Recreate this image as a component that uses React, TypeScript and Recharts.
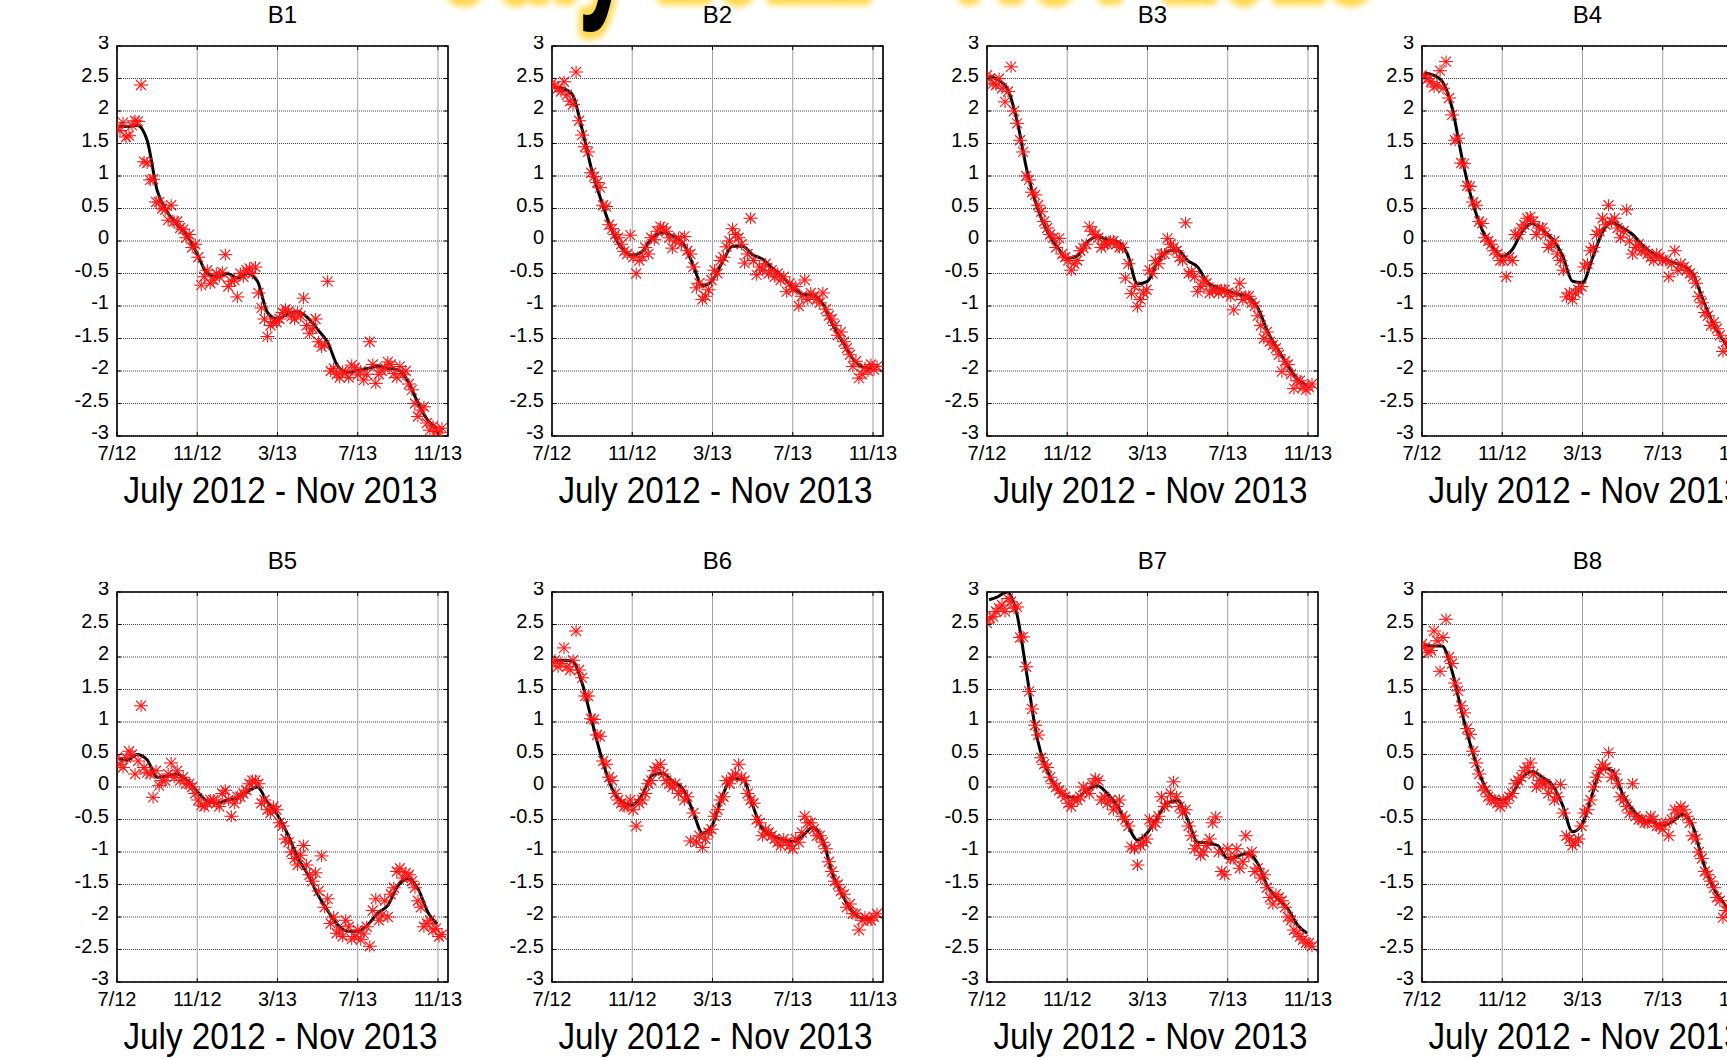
import { ComposedChart, Scatter, Line, XAxis, YAxis, CartesianGrid, ReferenceArea } from "recharts";

// sample dates, in months after 1 July 2012
const sampleMonths = [
  0, 0.3, 0.6, 0.9, 1.2, 1.5, 1.8, 2.1, 2.4, 2.7, 3.0, 3.3, 3.6, 3.9, 4.2, 4.5, 4.8, 5.1, 5.4, 5.7,
  6.0, 6.3, 6.6, 6.9, 7.2, 7.5, 7.8, 8.1, 8.4, 8.7, 9.0, 9.3, 9.6, 9.9, 10.2, 10.5, 10.8, 11.1, 11.4,
  11.7, 12.0, 12.3, 12.6, 12.9, 13.2, 13.5, 13.8, 14.1, 14.4, 14.7, 15.0, 15.3, 15.6, 15.9, 16.2,
];
// second batch of sample dates, in between the first ones
const extraMonths = [
  0.15, 0.45, 0.75, 1.05, 1.35, 1.65, 1.95, 2.25, 2.55, 2.85, 3.15, 3.45, 3.75, 4.05, 4.35, 4.65, 4.95,
  5.25, 5.55, 5.85, 6.15, 6.45, 6.75, 7.05, 7.35, 7.65, 7.95, 8.25, 8.55, 8.85, 9.15, 9.45, 9.75, 10.05,
  10.35, 10.65, 10.95, 11.25, 11.55, 11.85, 12.15, 12.45, 12.75, 13.05, 13.35, 13.65, 13.95, 14.25,
  14.55, 14.85, 15.15, 15.45, 15.75, 16.05,
];
// dates of the smoothed (black) curve
const fitMonths = [
  0.1, 0.5, 1, 1.5, 2, 2.5, 3, 3.5, 4, 4.5, 5, 5.5, 6, 6.5, 7, 7.5, 8, 8.5, 9, 9.5, 10, 10.5, 11,
  11.5, 12, 12.5, 13, 13.5, 14, 14.5, 15, 15.5, 15.95,
];

const xTicks = [0, 4, 8, 12, 16];
const xTickLabels = ["7/12", "11/12", "3/13", "7/13", "11/13"];
const yTicks = [-3, -2.5, -2, -1.5, -1, -0.5, 0, 0.5, 1, 1.5, 2, 2.5, 3];
const panelNames = ["B1", "B2", "B3", "B4", "B5", "B6", "B7", "B8"];
const axisTitle = "July 2012 - Nov 2013";

const b1Samples = [1.75, 1.82, 1.62, 1.85, 2.4, 1.2, 0.95, 0.6, 0.48, 0.55, 0.3, 0.18, 0.1, -0.05, -0.68, -0.45, -0.6, -0.55, -0.21, -0.62, -0.86, -0.55, -0.42, -0.4, -1.03, -1.47, -1.24, -1.2, -1.05, -1.16, -1.1, -0.88, -1.42, -1.2, -1.63, -0.62, -1.96, -2.1, -2.04, -1.91, -2.06, -2.14, -1.55, -2.19, -2.0, -1.86, -2.04, -1.93, -2.0, -2.29, -2.7, -2.55, -2.91, -2.93, -2.88];
const b1Extra = [1.7, 1.6, 1.78, 1.84, 1.22, 0.94, 0.6, 0.5, 0.32, 0.3, 0.2, 0.05, -0.1, -0.25, -0.55, -0.65, -0.5, -0.48, -0.7, -0.6, -0.5, -0.45, -0.5, -0.8, -1.2, -1.3, -1.25, -1.1, -1.08, -1.2, -1.15, -1.3, -1.35, -1.55, -1.6, -2.0, -2.05, -2.0, -2.1, -1.95, -2.0, -2.05, -1.9, -2.05, -1.95, -1.9, -2.1, -2.05, -2.2, -2.5, -2.6, -2.8, -2.85, -2.95];
const b1Fit = [1.76, 1.76, 1.78, 1.55, 0.78, 0.45, 0.25, 0.08, -0.2, -0.5, -0.55, -0.5, -0.57, -0.5, -0.62, -1.1, -1.2, -1.12, -1.09, -1.18, -1.36, -1.56, -1.92, -2.02, -1.99, -1.96, -1.93, -1.96, -1.98, -2.15, -2.49, -2.76, -2.88];

const b2Samples = [2.43, 2.35, 2.45, 2.15, 2.6, 1.63, 1.37, 0.99, 0.82, 0.53, 0.19, 0.05, -0.16, 0.09, -0.5, -0.24, -0.2, 0.02, 0.22, 0.15, -0.11, 0.05, 0.07, -0.2, -0.72, -0.9, -0.75, -0.45, -0.3, -0.09, 0.19, 0.05, -0.34, 0.35, -0.52, -0.45, -0.5, -0.55, -0.6, -0.78, -0.75, -1.0, -0.6, -0.8, -0.9, -0.8, -1.15, -1.3, -1.4, -1.65, -1.93, -2.11, -1.95, -1.9, -1.93];
const b2Extra = [2.38, 2.3, 2.25, 2.1, 1.85, 1.45, 1.05, 0.9, 0.55, 0.25, 0.1, -0.05, -0.2, -0.25, -0.3, -0.1, 0.05, 0.15, 0.2, 0.05, 0.0, -0.05, -0.15, -0.4, -0.65, -0.85, -0.6, -0.5, -0.25, 0.0, 0.1, -0.05, -0.2, -0.3, -0.4, -0.35, -0.45, -0.5, -0.55, -0.65, -0.7, -0.85, -0.9, -0.85, -0.95, -1.05, -1.2, -1.45, -1.55, -1.75, -1.85, -2.05, -2.0, -1.98];
const b2Fit = [2.37, 2.35, 2.26, 1.72, 1.07, 0.58, 0.15, -0.12, -0.22, -0.16, 0.05, 0.13, 0.08, -0.02, -0.34, -0.69, -0.6, -0.32, -0.08, -0.08, -0.21, -0.28, -0.42, -0.55, -0.71, -0.82, -0.83, -0.97, -1.29, -1.56, -1.81, -1.94, -1.96];

const b3Samples = [2.55, 2.42, 2.5, 2.14, 2.68, 1.81, 1.37, 0.94, 0.71, 0.45, 0.2, 0.05, 0.04, -0.25, -0.45, -0.3, -0.11, 0.22, 0.1, -0.1, -0.05, 0.0, -0.1, -0.57, -0.81, -1.01, -0.8, -0.45, -0.3, -0.2, 0.04, -0.1, -0.25, 0.28, -0.47, -0.78, -0.6, -0.8, -0.75, -0.75, -0.8, -1.06, -0.65, -0.85, -0.95, -1.15, -1.5, -1.55, -1.65, -2.01, -1.9, -2.27, -2.15, -2.29, -2.2];
const b3Extra = [2.5, 2.4, 2.35, 2.3, 2.0, 1.55, 1.0, 0.75, 0.55, 0.3, 0.1, -0.1, -0.2, -0.3, -0.35, -0.15, -0.05, 0.15, 0.05, -0.05, 0.0, -0.05, -0.1, -0.35, -0.7, -0.9, -0.75, -0.5, -0.35, -0.2, -0.05, -0.15, -0.3, -0.5, -0.55, -0.7, -0.65, -0.75, -0.8, -0.75, -0.85, -0.8, -0.9, -0.85, -1.0, -1.3, -1.4, -1.6, -1.75, -1.85, -2.05, -2.15, -2.25, -2.25];
const b3Fit = [2.53, 2.49, 2.35, 1.85, 1.07, 0.52, 0.15, -0.09, -0.27, -0.23, -0.02, 0.07, 0.02, -0.01, -0.2, -0.66, -0.62, -0.33, -0.16, -0.14, -0.3, -0.4, -0.64, -0.72, -0.77, -0.82, -0.85, -1.03, -1.4, -1.67, -1.92, -2.13, -2.22];

const b4Samples = [2.55, 2.5, 2.37, 2.62, 2.76, 1.94, 1.58, 1.19, 0.84, 0.55, 0.27, 0.0, -0.15, -0.3, -0.55, -0.3, 0.1, 0.25, 0.37, 0.1, 0.2, -0.1, 0.0, -0.3, -0.86, -0.9, -0.75, -0.4, -0.15, 0.1, 0.35, 0.55, 0.35, 0.05, 0.48, -0.2, -0.05, -0.15, -0.25, -0.2, -0.3, -0.55, -0.15, -0.35, -0.45, -0.55, -0.85, -1.1, -1.3, -1.35, -1.7, -1.65, -1.85, -1.95, -2.0];
const b4Extra = [2.52, 2.45, 2.4, 2.35, 2.2, 1.55, 1.2, 0.85, 0.6, 0.3, 0.05, -0.05, -0.2, -0.3, -0.25, 0.1, 0.2, 0.35, 0.3, 0.2, 0.1, -0.05, -0.2, -0.45, -0.8, -0.8, -0.7, -0.35, -0.1, 0.15, 0.25, 0.3, 0.2, 0.15, 0.0, -0.1, -0.15, -0.2, -0.3, -0.25, -0.3, -0.35, -0.45, -0.4, -0.5, -0.65, -0.95, -1.15, -1.25, -1.45, -1.55, -1.75, -1.9, -1.95];
const b4Fit = [2.58, 2.56, 2.46, 2.05, 1.27, 0.62, 0.17, -0.08, -0.24, -0.13, 0.15, 0.27, 0.17, 0.03, -0.22, -0.62, -0.64, -0.26, 0.14, 0.28, 0.2, 0.1, -0.07, -0.19, -0.26, -0.33, -0.38, -0.5, -0.9, -1.26, -1.52, -1.76, -1.95];

const b5Samples = [0.45, 0.3, 0.55, 0.2, 1.25, 0.22, -0.16, 0.02, 0.1, 0.37, 0.25, 0.15, 0.05, -0.1, -0.28, -0.25, -0.2, -0.3, -0.05, -0.45, -0.15, -0.1, 0.05, 0.1, -0.25, -0.35, -0.3, -0.55, -0.8, -1.0, -1.2, -0.9, -1.35, -1.32, -1.06, -1.72, -2.0, -2.2, -2.05, -2.34, -2.2, -2.26, -2.45, -1.72, -1.97, -2.0, -1.55, -1.25, -1.32, -1.45, -1.75, -2.15, -2.05, -2.18, -2.27];
const b5Extra = [0.35, 0.45, 0.5, 0.4, 0.3, 0.2, 0.25, 0.1, 0.2, 0.15, 0.1, 0.05, 0.0, -0.2, -0.3, -0.2, -0.25, -0.1, -0.2, -0.25, -0.15, -0.05, 0.1, 0.05, -0.2, -0.4, -0.35, -0.6, -0.85, -1.1, -1.05, -1.2, -1.45, -1.6, -1.85, -2.1, -2.25, -2.3, -2.15, -2.3, -2.35, -2.15, -1.9, -2.05, -1.75, -1.65, -1.3, -1.4, -1.35, -1.55, -1.85, -2.1, -2.2, -2.3];
const b5Fit = [0.44, 0.41, 0.5, 0.42, 0.15, 0.17, 0.2, 0.1, -0.07, -0.22, -0.25, -0.2, -0.17, -0.07, 0.0, -0.24, -0.43, -0.72, -1.08, -1.34, -1.65, -1.9, -2.12, -2.22, -2.22, -2.12, -1.94, -1.82, -1.52, -1.41, -1.56, -1.93, -2.11];

const b6Samples = [1.9, 1.85, 2.14, 1.8, 2.4, 1.68, 1.4, 1.04, 0.78, 0.35, 0.1, -0.2, -0.3, -0.2, -0.6, -0.2, 0.05, 0.25, 0.35, 0.1, 0.0, -0.1, -0.2, -0.83, -0.85, -0.93, -0.7, -0.45, -0.2, 0.1, 0.15, 0.35, 0.1, -0.2, -0.5, -0.75, -0.7, -0.8, -0.9, -0.85, -0.95, -0.85, -0.45, -0.55, -0.75, -0.85, -1.15, -1.45, -1.6, -1.85, -1.95, -2.2, -2.0, -2.05, -1.95];
const b6Extra = [1.95, 1.9, 1.85, 1.95, 1.8, 1.4, 1.05, 0.8, 0.4, 0.15, -0.1, -0.25, -0.3, -0.35, -0.25, -0.1, 0.1, 0.3, 0.2, 0.05, 0.05, -0.05, -0.15, -0.4, -0.75, -0.8, -0.65, -0.35, -0.15, 0.05, 0.2, 0.15, -0.1, -0.25, -0.55, -0.65, -0.75, -0.85, -0.8, -0.9, -0.8, -0.7, -0.55, -0.65, -0.75, -0.95, -1.3, -1.5, -1.65, -1.8, -1.95, -2.05, -2.05, -2.0];
const b6Fit = [1.94, 1.95, 1.94, 1.6, 1.0, 0.42, -0.03, -0.23, -0.28, -0.12, 0.18, 0.21, 0.09, -0.02, -0.35, -0.71, -0.58, -0.13, 0.13, 0.13, -0.28, -0.65, -0.75, -0.81, -0.84, -0.75, -0.62, -0.82, -1.35, -1.68, -1.92, -2.02, -2.02];

const b7Samples = [2.52, 2.62, 2.75, 2.7, 2.85, 2.77, 2.31, 1.47, 0.95, 0.45, 0.3, 0.05, -0.05, -0.15, -0.3, -0.2, 0.0, -0.1, 0.13, -0.2, -0.25, -0.35, -0.2, -0.5, -0.92, -1.2, -0.85, -0.5, -0.55, -0.15, -0.25, 0.08, -0.3, -0.35, -0.75, -0.9, -1.0, -0.8, -0.46, -1.3, -0.95, -1.1, -1.25, -0.75, -1.0, -1.25, -1.35, -1.7, -1.65, -1.75, -2.0, -2.2, -2.3, -2.4, -2.45];
const b7Extra = [2.6, 2.7, 2.8, 2.9, 2.75, 2.3, 1.85, 1.2, 0.8, 0.35, 0.15, 0.0, -0.1, -0.25, -0.2, -0.15, -0.05, 0.05, 0.1, -0.15, -0.2, -0.3, -0.45, -0.6, -0.95, -0.9, -0.8, -0.6, -0.45, -0.3, -0.1, -0.15, -0.4, -0.6, -0.95, -1.05, -0.9, -0.55, -1.0, -1.35, -1.1, -0.95, -1.15, -1.05, -1.3, -1.4, -1.55, -1.8, -1.7, -1.85, -2.05, -2.25, -2.35, -2.4];
const b7Fit = [2.88, 2.92, 3.0, 2.65, 1.7, 0.75, 0.25, -0.02, -0.15, -0.16, -0.04, 0.02, -0.1, -0.29, -0.58, -0.82, -0.7, -0.46, -0.24, -0.21, -0.5, -0.85, -0.86, -0.9, -1.1, -1.06, -1.02, -1.18, -1.54, -1.72, -1.88, -2.13, -2.25];

const b8Samples = [2.2, 2.07, 2.4, 1.78, 2.58, 1.9, 1.48, 1.14, 0.81, 0.37, 0.0, -0.15, -0.2, -0.3, -0.25, -0.1, 0.1, 0.25, 0.37, 0.0, 0.05, -0.1, -0.2, 0.04, -0.75, -0.9, -0.8, -0.4, -0.2, 0.15, 0.35, 0.53, 0.2, -0.15, -0.3, 0.05, -0.5, -0.55, -0.45, -0.6, -0.65, -0.75, -0.35, -0.3, -0.45, -0.75, -1.0, -1.3, -1.45, -1.7, -2.01, -1.85, -2.0, -2.1, -2.05];
const b8Extra = [2.15, 2.1, 2.25, 2.3, 2.0, 1.6, 1.25, 0.9, 0.55, 0.2, -0.05, -0.2, -0.25, -0.2, -0.15, 0.05, 0.15, 0.3, 0.2, 0.1, 0.05, 0.0, -0.15, -0.4, -0.8, -0.85, -0.6, -0.35, 0.0, 0.25, 0.3, 0.15, 0.05, -0.2, -0.4, -0.45, -0.5, -0.55, -0.5, -0.6, -0.55, -0.5, -0.4, -0.35, -0.55, -0.8, -1.1, -1.35, -1.55, -1.75, -1.9, -2.0, -2.05, -2.1];
const b8Fit = [2.19, 2.17, 2.17, 1.78, 1.13, 0.56, 0.1, -0.15, -0.2, -0.1, 0.15, 0.24, 0.15, 0.03, -0.27, -0.69, -0.56, -0.1, 0.29, 0.25, -0.11, -0.35, -0.49, -0.54, -0.59, -0.53, -0.42, -0.6, -1.14, -1.54, -1.77, -1.98, -2.1];

const allSamples = [b1Samples, b2Samples, b3Samples, b4Samples, b5Samples, b6Samples, b7Samples, b8Samples];
const allExtras = [b1Extra, b2Extra, b3Extra, b4Extra, b5Extra, b6Extra, b7Extra, b8Extra];
const allFits = [b1Fit, b2Fit, b3Fit, b4Fit, b5Fit, b6Fit, b7Fit, b8Fit];

const FONT = "'Liberation Sans', Arial, Helvetica, sans-serif";
const PLOT_W = 331;
const PLOT_H = 390;
const M_LEFT = 60;
const M_TOP = 10;
const colLeft = [117, 552, 987, 1422];
const rowTop = [46, 592];

// MATLAB-style '*' marker
function Asterisk(props: any) {
  const { cx, cy } = props;
  if (cx == null || cy == null) return null;
  const r = 7;
  const d = 5;
  return (
    <g stroke="#ff1414" strokeWidth={1.1}>
      <line x1={cx - r} y1={cy} x2={cx + r} y2={cy} />
      <line x1={cx} y1={cy - r + 1} x2={cx} y2={cy + r - 1} />
      <line x1={cx - d} y1={cy - d} x2={cx + d} y2={cy + d} />
      <line x1={cx - d} y1={cy + d} x2={cx + d} y2={cy - d} />
    </g>
  );
}

// y tick: label plus small inward ticks on both sides of the box
function YTick(props: any) {
  const { x, y, payload } = props;
  return (
    <g>
      <text x={x} y={y - 4} dy="0.355em" textAnchor="end" fontSize={20} fontFamily={FONT} fill="#000">
        {payload.value}
      </text>
      <line x1={M_LEFT} x2={M_LEFT + 4} y1={y} y2={y} stroke="#000" />
      <line x1={M_LEFT + PLOT_W - 4} x2={M_LEFT + PLOT_W} y1={y} y2={y} stroke="#000" />
    </g>
  );
}

// x tick: label plus small inward ticks at top and bottom of the box
function XTick(props: any) {
  const { x, y, payload } = props;
  return (
    <g>
      <text x={x} y={y} dy="0.71em" textAnchor="middle" fontSize={20} fontFamily={FONT} fill="#000">
        {xTickLabels[xTicks.indexOf(payload.value)] ?? ""}
      </text>
      <line x1={x} x2={x} y1={M_TOP + PLOT_H} y2={M_TOP + PLOT_H - 4} stroke="#000" />
      <line x1={x} x2={x} y1={M_TOP} y2={M_TOP + 4} stroke="#000" />
    </g>
  );
}

function Panel({ index }: { index: number }) {
  const left = colLeft[index % 4];
  const top = rowTop[Math.floor(index / 4)];
  const scatterData = [
    ...sampleMonths.map((m, i) => ({ x: m, y: allSamples[index][i] })),
    ...extraMonths.map((m, i) => ({ x: m, y: allExtras[index][i] })),
  ];
  const lineData = fitMonths.map((m, i) => ({ x: m, y: allFits[index][i] }));

  return (
    <div style={{ position: "absolute", left: left - M_LEFT, top: top - M_TOP }}>
      <ComposedChart
        width={M_LEFT + PLOT_W + 20}
        height={M_TOP + PLOT_H + 40}
        margin={{ top: M_TOP, right: 20, bottom: 0, left: 0 }}
      >
        <CartesianGrid vertical={false} stroke="#404040" strokeDasharray="1 1" />
        <CartesianGrid horizontal={false} stroke="#a0a0a0" />
        <XAxis
          type="number"
          dataKey="x"
          domain={[0, 16.5]}
          ticks={xTicks}
          interval={0}
          allowDataOverflow
          height={40}
          axisLine={false}
          tickLine={false}
          tickMargin={4}
          tick={<XTick />}
        />
        <YAxis
          type="number"
          dataKey="y"
          domain={[-3, 3]}
          ticks={yTicks}
          interval={0}
          allowDataOverflow
          width={M_LEFT}
          axisLine={false}
          tickLine={false}
          tickMargin={2}
          tick={<YTick />}
        />
        <Scatter data={scatterData} shape={<Asterisk />} isAnimationActive={false} />
        <Line
          data={lineData}
          dataKey="y"
          type="monotone"
          stroke="#000"
          strokeWidth={3}
          dot={false}
          activeDot={false}
          isAnimationActive={false}
        />
        <ReferenceArea x1={0} x2={16.5} y1={-3} y2={3} fill="none" fillOpacity={0} stroke="#000" strokeWidth={1.6} />
      </ComposedChart>
    </div>
  );
}

export default function App() {
  return (
    <div
      style={{
        position: "fixed",
        left: 0,
        top: 0,
        width: 1727,
        height: 1059,
        overflow: "hidden",
        background: "#fff",
        fontFamily: FONT,
      }}
    >
      <svg width={1727} height={1059} style={{ position: "absolute", left: 0, top: 0 }}>
        <defs>
          <filter id="glow" x="-10%" y="-50%" width="120%" height="200%">
            <feGaussianBlur stdDeviation="3" />
          </filter>
        </defs>
        <text
          x={440}
          y={-3}
          fontSize={170}
          fontWeight="bold"
          fontFamily={FONT}
          textLength={937}
          lengthAdjust="spacingAndGlyphs"
          fill="#ffd84d"
          stroke="#ffd84d"
          strokeWidth={16}
          strokeLinejoin="round"
          filter="url(#glow)"
        >
          {axisTitle}
        </text>
        <text x={440} y={-3} fontSize={170} fontWeight="bold" fontFamily={FONT} textLength={937} lengthAdjust="spacingAndGlyphs" fill="#000">
          {axisTitle}
        </text>
        {panelNames.map((name, i) => {
          const cx = colLeft[i % 4] + PLOT_W / 2;
          const t = rowTop[Math.floor(i / 4)];
          return (
            <g key={name}>
              <text x={cx} y={t - 23} textAnchor="middle" fontSize={24} fontFamily={FONT} fill="#000">
                {name}
              </text>
              <text
                x={cx - 2}
                y={t + PLOT_H + 67}
                textAnchor="middle"
                fontSize={37}
                fontFamily={FONT}
                fill="#000"
                textLength={314}
                lengthAdjust="spacingAndGlyphs"
              >
                {axisTitle}
              </text>
            </g>
          );
        })}
      </svg>
      {panelNames.map((name, i) => (
        <Panel key={name} index={i} />
      ))}
    </div>
  );
}
